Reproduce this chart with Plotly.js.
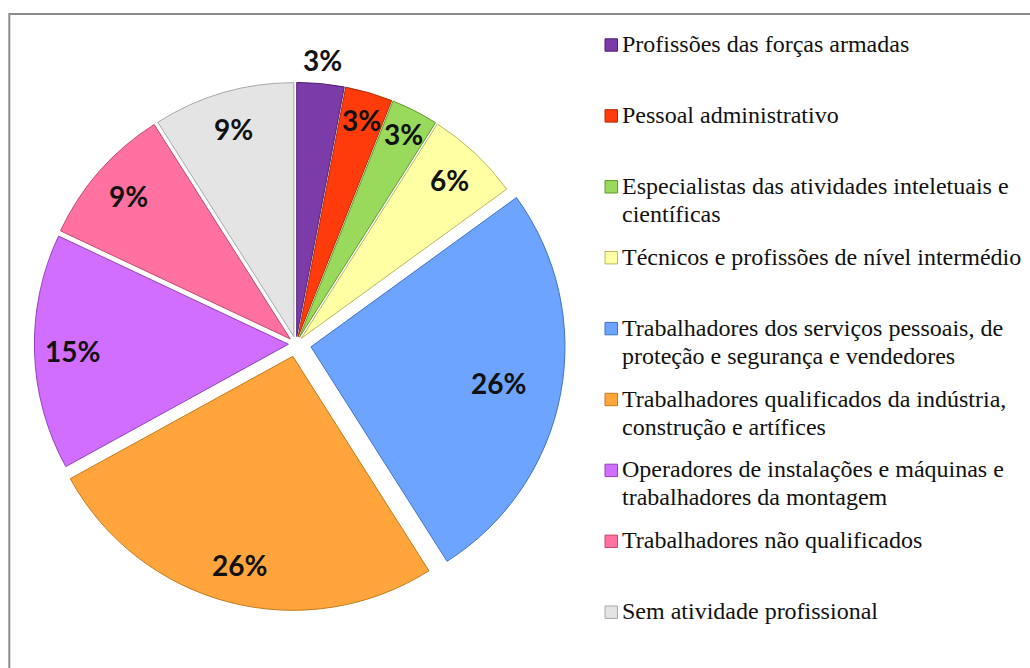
<!DOCTYPE html>
<html>
<head>
<meta charset="utf-8">
<script src="https://cdn.plot.ly/plotly-3.0.1.min.js"></script>
<style>
  html, body { margin: 0; padding: 0; background: #ffffff; }
  #chart { width: 1030px; height: 668px; }
</style>
</head>
<body>
<div id="chart"></div>
<script>
// ---- data ----
const categories = [
  "Profissões das forças armadas",
  "Pessoal administrativo",
  "Especialistas das atividades inteletuais e<br>científicas",
  "Técnicos e profissões de nível intermédio",
  "Trabalhadores dos serviços pessoais, de<br>proteção e segurança e vendedores",
  "Trabalhadores qualificados da indústria,<br>construção e artífices",
  "Operadores de instalações e máquinas e<br>trabalhadores da montagem",
  "Trabalhadores não qualificados",
  "Sem atividade profissional"
];
const values = [3, 3, 3, 6, 26, 26, 15, 9, 9];

// ---- styles ----
const colors = ["#7B3BA9", "#FF3B0B", "#99D95B", "#FFFFA3", "#6DA4FF", "#FFA53C", "#D26EFF", "#FF71A0", "#E4E4E4"];
const edgeColors = ["#4E1F75", "#B52800", "#5F9A2E", "#B8B865", "#3F73C4", "#C37A1C", "#9440BF", "#C4486F", "#A8A8A8"];
const pulls = [0.03, 0.03, 0.03, 0.03, 0.06, 0.05, 0.03, 0.03, 0.03];
const labelDist = [1.095, 0.89, 0.90, 0.855, 0.75, 0.85, 0.85, 0.85, 0.85];

// ---- geometry (pixels) ----
const W = 1030, H = 668;
const cx = 296, cy = 344, r = 254;
const maxPull = Math.max(...pulls);
const half = r * (1 + maxPull);
const domX = [(cx - half) / W, (cx + half) / W];
const domY = [(H - cy - half) / H, (H - cy + half) / H];

const px2x = px => px / W;
const px2y = py => 1 - py / H;

const annotations = [];
const shapes = [];

// percentage labels, placed along each slice's mid angle
const total = values.reduce((a, b) => a + b, 0);
let cum = 0;
values.forEach((v, i) => {
  const mid = (cum + v / 2) / total;
  cum += v;
  const th = 2 * Math.PI * mid;
  const d = (pulls[i] + labelDist[i]) * r;
  const x = cx + d * Math.sin(th);
  const y = cy - d * Math.cos(th);
  annotations.push({
    x: px2x(x), y: px2y(y), xref: 'paper', yref: 'paper',
    text: '<b>' + Math.round(v / total * 100) + '%</b>',
    showarrow: false, xanchor: 'center', yanchor: 'middle',
    font: { family: 'Lato, "Open Sans", sans-serif', size: 28, color: '#111111' }
  });
});

// legend built from categories
const legTop = 45, legStep = 70.9, lineGap = 28;
categories.forEach((c, i) => {
  const yc = legTop + i * legStep;
  shapes.push({
    type: 'rect', xref: 'paper', yref: 'paper',
    x0: px2x(605), x1: px2x(617.5), y0: px2y(yc - 6.2), y1: px2y(yc + 6.2),
    fillcolor: colors[i], line: { color: edgeColors[i], width: 1 }
  });
  c.split('<br>').forEach((line, k) => {
    annotations.push({
      x: px2x(620), y: px2y(yc - 1 + k * lineGap), xref: 'paper', yref: 'paper',
      text: line, showarrow: false, xanchor: 'left', yanchor: 'middle',
      font: { family: '"Liberation Serif", "Times New Roman", serif', size: 24, color: '#111111' }
    });
  });
});

// outer frame
shapes.push({
  type: 'rect', xref: 'paper', yref: 'paper', layer: 'below',
  x0: px2x(9.3), x1: 1.02, y0: -0.02, y1: px2y(14),
  line: { color: '#8A8A8A', width: 2 }, fillcolor: 'rgba(0,0,0,0)'
});

const trace = {
  type: 'pie',
  labels: categories.map(c => c.replace('<br>', ' ')),
  values: values,
  sort: false,
  direction: 'clockwise',
  rotation: 0,
  pull: pulls,
  textinfo: 'none',
  marker: { colors: colors, line: { color: edgeColors, width: 1 } },
  domain: { x: domX, y: domY },
  hovertemplate: '%{label}<br>%{percent}<extra></extra>'
};

const layout = {
  width: W, height: H,
  margin: { l: 0, r: 0, t: 0, b: 0 },
  paper_bgcolor: '#ffffff',
  plot_bgcolor: '#ffffff',
  showlegend: false,
  annotations: annotations,
  shapes: shapes
};

Plotly.newPlot('chart', [trace], layout, { displayModeBar: false, staticPlot: false });
</script>
</body>
</html>
